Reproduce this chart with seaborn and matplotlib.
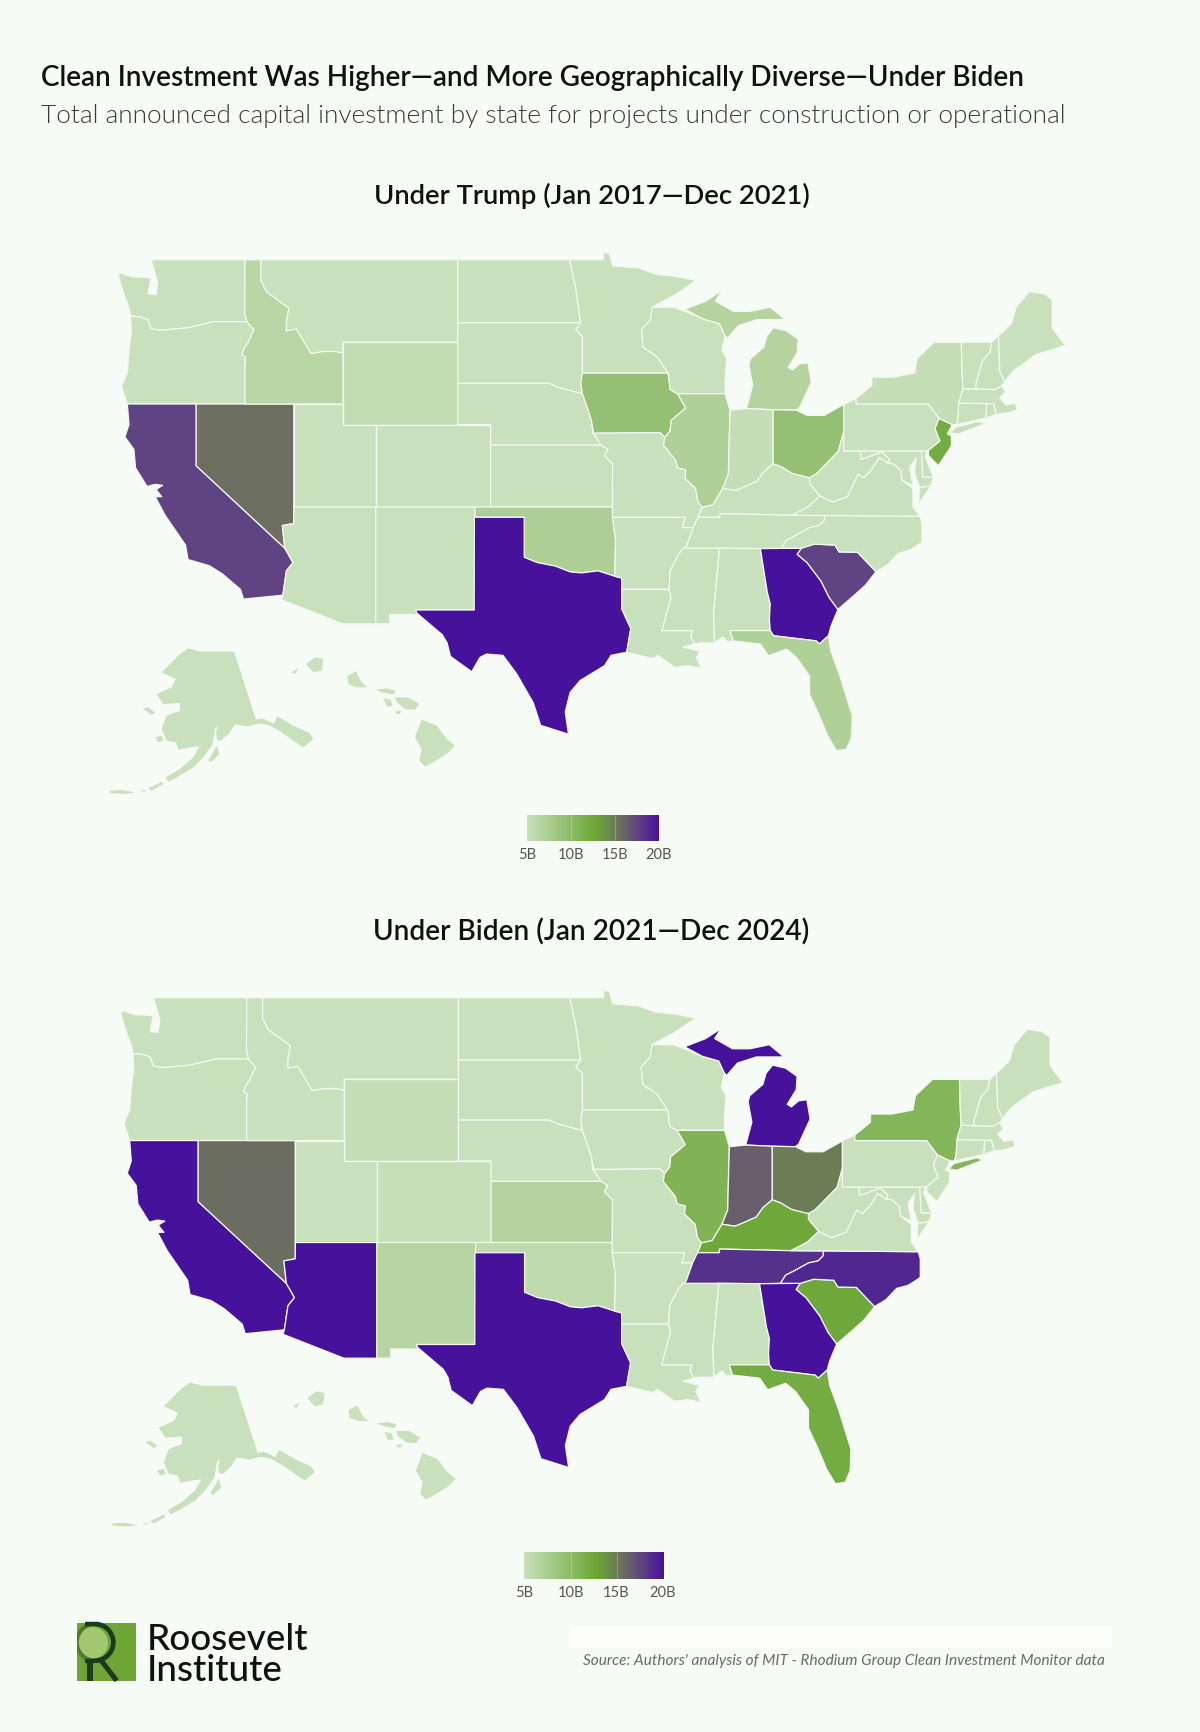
import numpy as np
import matplotlib
matplotlib.use("Agg")
import matplotlib.pyplot as plt
from matplotlib.collections import PolyCollection
from matplotlib.colors import LinearSegmentedColormap, Normalize
from matplotlib.patches import Rectangle, Circle, Arc
import seaborn as sns

TITLE = "Clean Investment Was Higher\u2014and More Geographically Diverse\u2014Under Biden"
SUBTITLE = "Total announced capital investment by state for projects under construction or operational"
HEAD_TRUMP = "Under Trump (Jan 2017\u2014Dec 2021)"
HEAD_BIDEN = "Under Biden (Jan 2021\u2014Dec 2024)"
SOURCE = "Source: Authors' analysis of MIT - Rhodium Group Clean Investment Monitor data"
LEGEND_TICKS = [5, 10, 15, 20]
LEGEND_LABELS = ["5B", "10B", "15B", "20B"]

# Announced investment, $B (floor of the scale = 5)
STATE_CODES = ["WA","OR","CA","NV","ID","MT","WY","UT","AZ","CO","NM","ND","SD","NE","KS","OK","TX",
               "MN","IA","MO","AR","LA","WI","IL","MS","MI","IN","KY","TN","AL","OH","GA","FL","SC",
               "NC","VA","WV","MD","DE","PA","NJ","NY","CT","RI","MA","VT","NH","ME","AK","HI"]
TRUMP_VALUES = [5,5,17.6,15.5,6.4,5,5.6,5,5,5,5,5,5,5,5,7.3,20,
                5,9.3,5,5,5,5.1,7.2,5,6.8,5.3,5,5,5,9.3,20,7.2,17.6,
                5,5,5,5,5,5,12,5.3,5,5,5,5,5,5,5,5]
BIDEN_VALUES  = [5,5,20,15.6,5,5,5.3,5,20,5.2,6.5,5,5,5,6.8,5.8,20,
                 5,5,5,5,5,5,11,5,20,16.3,12.5,18.5,5,14.8,20,12,12.5,
                 19,5.1,5.1,5,5,5,5,10.8,5,5,5,5,5,5,5,5]

# Simplified state outlines (lon, lat)
OUTLINES = {
"WA":[[(-122.76,49),(-117.03,49),(-117.04,46.42),(-116.92,46),(-118.98,46),(-119.3,45.93),(-120.5,45.7),(-121.2,45.65),(-122.2,45.58),(-122.75,45.65),(-122.95,46.1),(-123.4,46.22),(-124,46.27),(-124.1,46.7),(-124.4,47.3),(-124.73,48.17),(-124.7,48.38),(-123.9,48.17),(-123.1,48.15),(-122.75,48.12),(-122.95,47.35),(-122.45,47.3),(-122.35,47.9),(-122.55,48.5)]],
"OR":[[(-124.2,42),(-117.03,42),(-117.03,43.83),(-117,44.3),(-117.22,44.4),(-117.05,44.75),(-116.85,44.95),(-116.55,45.5),(-116.47,45.6),(-116.92,46),(-118.98,46),(-119.3,45.93),(-120.5,45.7),(-121.2,45.65),(-122.2,45.58),(-122.75,45.65),(-122.95,46.1),(-123.4,46.22),(-124,46.27),(-123.95,45.5),(-124.1,44.6),(-124.2,43.5),(-124.55,42.85)]],
"CA":[[(-124.2,42),(-120,42),(-120,39),(-114.6,35),(-114.1,34.3),(-114.5,33.9),(-114.72,32.72),(-117.12,32.53),(-117.3,33),(-118.4,33.75),(-119.2,34.15),(-120.5,34.45),(-120.65,35.15),(-121.9,36.6),(-122.5,37.5),(-122.1,37.5),(-122.45,37.85),(-122.05,38.05),(-122.5,38.1),(-123,38),(-123.7,38.9),(-123.8,39.8),(-124.35,40.4),(-124.1,41)]],
"NV":[[(-120,42),(-114.05,42),(-114.05,36.2),(-114.75,36.1),(-114.6,35),(-120,39)]],
"ID":[[(-117.03,49),(-116.05,49),(-116.05,48),(-115.72,47.45),(-114.95,47),(-114.35,46.65),(-114.5,46),(-114.5,45.55),(-113.9,45.65),(-113.45,45.05),(-113,44.45),(-112.3,44.55),(-111.5,44.55),(-111.05,44.48),(-111.05,42),(-117.03,42),(-117.03,43.83),(-117,44.3),(-117.22,44.4),(-117.05,44.75),(-116.85,44.95),(-116.55,45.5),(-116.47,45.6),(-116.92,46),(-117.04,46.42)]],
"MT":[[(-116.05,49),(-104.05,49),(-104.05,45),(-111.05,45),(-111.05,44.48),(-111.5,44.55),(-112.3,44.55),(-113,44.45),(-113.45,45.05),(-113.9,45.65),(-114.5,45.55),(-114.5,46),(-114.35,46.65),(-114.95,47),(-115.72,47.45),(-116.05,48)]],
"WY":[[(-111.05,45),(-104.05,45),(-104.05,41),(-111.05,41)]],
"UT":[[(-114.05,42),(-111.05,42),(-111.05,41),(-109.05,41),(-109.05,37),(-114.05,37)]],
"AZ":[[(-114.05,37),(-109.05,37),(-109.05,31.33),(-111.07,31.33),(-114.8,32.5),(-114.72,32.72),(-114.5,33.9),(-114.1,34.3),(-114.6,35),(-114.75,36.1),(-114.05,36.2)]],
"CO":[[(-109.05,41),(-102.05,41),(-102.05,37),(-109.05,37)]],
"NM":[[(-109.05,37),(-103,37),(-103.05,32),(-106.62,32),(-106.53,31.78),(-108.2,31.78),(-108.2,31.33),(-109.05,31.33)]],
"ND":[[(-104.05,49),(-97.23,49),(-96.85,47.6),(-96.56,45.94),(-104.05,45.94)]],
"SD":[[(-104.05,45.94),(-96.56,45.94),(-96.85,45.6),(-96.45,45.3),(-96.45,43.5),(-96.55,43),(-96.45,42.49),(-97.9,42.8),(-98.5,43),(-104.05,43)]],
"NE":[[(-104.05,43),(-98.5,43),(-97.9,42.8),(-96.45,42.49),(-96.1,41.7),(-95.9,41.2),(-95.82,40.6),(-95.31,40),(-102.05,40),(-102.05,41),(-104.05,41)]],
"KS":[[(-102.05,40),(-95.31,40),(-94.9,39.8),(-95.1,39.5),(-94.61,39.1),(-94.62,37),(-102.05,37)]],
"OK":[[(-103,37),(-94.62,37),(-94.62,36.5),(-94.43,35.4),(-94.48,33.64),(-95.5,33.9),(-96.5,33.8),(-97.2,33.85),(-98.1,34.13),(-99.2,34.3),(-100,34.56),(-100,36.5),(-103,36.5)]],
"TX":[[(-103.04,36.5),(-100,36.5),(-100,34.56),(-99.2,34.3),(-98.1,34.13),(-97.2,33.85),(-96.5,33.8),(-95.5,33.9),(-94.48,33.64),(-94.05,33.55),(-94.05,32.05),(-93.5,31.1),(-93.75,29.95),(-94.7,29.8),(-95.1,29.3),(-96.6,28.57),(-97.2,28),(-97.5,27.05),(-97.3,25.97),(-99,26.4),(-99.45,27.5),(-100.46,28.9),(-101.3,29.8),(-102.3,29.86),(-102.7,29.7),(-103.2,29),(-104.5,29.75),(-104.7,30.4),(-105,30.8),(-106.55,31.85),(-106.62,32),(-103.05,32)]],
"MN":[[(-97.23,49),(-95.15,49),(-95.15,49.38),(-94.8,49.3),(-94.6,48.7),(-93,48.6),(-92,48.3),(-90.8,48.2),(-89.5,48),(-90.8,47.3),(-92.1,46.75),(-92.3,46.1),(-92.85,45.6),(-92.75,44.75),(-91.9,44.3),(-91.22,43.5),(-96.45,43.5),(-96.45,45.3),(-96.85,45.6),(-96.56,45.94),(-96.85,47.6)]],
"IA":[[(-96.45,43.5),(-91.22,43.5),(-91.1,42.7),(-90.65,42.5),(-90.15,41.8),(-91.05,41.2),(-91.1,40.7),(-91.42,40.38),(-91.73,40.61),(-95.77,40.58),(-95.9,41.2),(-96.1,41.7),(-96.45,42.49),(-96.55,43)]],
"MO":[[(-95.77,40.58),(-91.73,40.61),(-91.42,40.38),(-91.5,40),(-90.75,39.25),(-90.65,38.9),(-90.15,38.8),(-90.2,38.4),(-89.55,37.9),(-89.4,37.25),(-89.15,36.98),(-89.4,36.5),(-89.7,36),(-90.37,36),(-90.2,36.5),(-94.62,36.5),(-94.62,37),(-94.61,39.1),(-95.1,39.5),(-94.9,39.8),(-95.31,40)]],
"AR":[[(-94.62,36.5),(-90.2,36.5),(-90.37,36),(-89.7,36),(-90.1,35.1),(-90.6,34.7),(-91.1,33.9),(-91.17,33),(-94.05,33),(-94.05,33.55),(-94.48,33.64),(-94.43,35.4)]],
"LA":[[(-94.05,33),(-91.17,33),(-91.05,32.6),(-91.6,31),(-89.73,31),(-89.85,30.67),(-89.6,30.35),(-90.3,30.2),(-89.3,30),(-89.5,29.7),(-89.2,29.17),(-90,29.3),(-90.81,29.22),(-91.85,29.8),(-92.13,29.65),(-93,29.8),(-93.75,29.95),(-93.5,31.1),(-94.05,32.05)]],
"MS":[[(-90.3,35),(-88.2,35),(-88.1,34.9),(-88.45,31.9),(-88.4,30.4),(-89.3,30.4),(-89.6,30.35),(-89.85,30.67),(-89.73,31),(-91.6,31),(-91.05,32.6),(-91.17,33),(-91.1,33.9),(-90.6,34.7)]],
"AL":[[(-88.2,35),(-85.6,34.98),(-85.18,32.87),(-85,32.3),(-85.05,31.55),(-85,31),(-87.45,31),(-87.25,30.5),(-87.6,30.45),(-87.9,30.7),(-88.06,30.6),(-88.4,30.4),(-88.45,31.9),(-88.1,34.9)]],
"GA":[[(-85.6,34.98),(-83.1,35),(-83.35,34.7),(-82.75,34.3),(-81.9,33.4),(-81.4,32.6),(-80.87,32.03),(-81.3,31.2),(-81.45,30.75),(-82,30.35),(-82.2,30.5),(-84.8,30.75),(-85,31),(-85.05,31.55),(-85,32.3),(-85.18,32.87)]],
"FL":[[(-87.45,31),(-85,31),(-84.8,30.75),(-82.2,30.5),(-82,30.35),(-81.45,30.75),(-81.3,30),(-80.75,28.8),(-80,26.87),(-80.05,25.8),(-80.35,25.25),(-80.95,25.17),(-81.5,25.9),(-82,26.87),(-82.6,27.9),(-82.6,28.8),(-83.4,29.7),(-84,30.1),(-85.1,29.78),(-85.6,30.35),(-87.25,30.5)]],
"SC":[[(-83.1,35),(-82.3,35.2),(-81.05,35.15),(-80.8,34.82),(-79.67,34.8),(-78.55,33.86),(-79.2,33.2),(-79.9,32.7),(-80.87,32.03),(-81.4,32.6),(-81.9,33.4),(-82.75,34.3),(-83.35,34.7)]],
"NC":[[(-84.32,35),(-83.1,35),(-82.3,35.2),(-81.05,35.15),(-80.8,34.82),(-79.67,34.8),(-78.55,33.86),(-77.85,34.2),(-77.2,34.75),(-76.5,34.9),(-76,35.15),(-75.75,35.3),(-75.75,36.2),(-75.87,36.55),(-81.68,36.59),(-81.7,36.35),(-82,36.1),(-82.6,36),(-83.5,35.6),(-84,35.4)]],
"TN":[[(-90.3,35),(-90.1,35.1),(-89.7,36),(-89.4,36.5),(-88.07,36.5),(-88.05,36.68),(-83.68,36.6),(-81.68,36.59),(-81.7,36.35),(-82,36.1),(-82.6,36),(-83.5,35.6),(-84,35.4),(-84.32,35),(-85.6,34.98),(-88.2,35)]],
"KY":[[(-89.4,36.5),(-89.15,36.98),(-88.5,37.1),(-87.9,37.9),(-87.1,37.8),(-86.5,38),(-85.8,38.25),(-85.4,38.7),(-84.82,39.1),(-84.3,38.95),(-83.65,38.63),(-82.6,38.42),(-82.6,38.15),(-81.97,37.54),(-82.7,37),(-83.68,36.6),(-88.05,36.68),(-88.07,36.5)]],
"VA":[[(-83.68,36.6),(-81.68,36.59),(-75.87,36.55),(-76.3,37),(-76.3,37.9),(-76.95,38.3),(-77.05,38.8),(-77.5,39.1),(-77.83,39.13),(-78.35,39.4),(-78.87,38.76),(-79.3,38.42),(-79.65,38.6),(-80.3,37.5),(-81.2,37.25),(-81.97,37.54),(-82.7,37)],
      [(-75.9,37.95),(-75.2,38.03),(-75.95,37.15)]],
"WV":[[(-82.6,38.42),(-82.6,38.15),(-81.97,37.54),(-81.2,37.25),(-80.3,37.5),(-79.65,38.6),(-79.3,38.42),(-78.87,38.76),(-78.35,39.4),(-77.83,39.13),(-77.72,39.32),(-78.2,39.68),(-79.48,39.3),(-79.48,39.72),(-80.52,39.72),(-80.52,40.64),(-80.85,39.7),(-81.7,39),(-82.2,38.6)]],
"OH":[[(-84.82,41.72),(-83.4,41.7),(-82.75,41.45),(-81.7,41.45),(-80.52,41.98),(-80.52,40.64),(-80.85,39.7),(-81.7,39),(-82.2,38.6),(-82.6,38.42),(-83.65,38.63),(-84.3,38.95),(-84.82,39.1)]],
"IN":[[(-87.45,41.7),(-86.45,41.78),(-84.82,41.72),(-84.82,39.1),(-85.4,38.7),(-85.8,38.25),(-86.5,38),(-87.1,37.8),(-87.9,37.9),(-87.55,38.6),(-87.53,39.35)]],
"IL":[[(-90.65,42.5),(-87.75,42.5),(-87.45,41.7),(-87.53,39.35),(-87.55,38.6),(-87.9,37.9),(-88.5,37.1),(-89.15,36.98),(-89.4,37.25),(-89.55,37.9),(-90.2,38.4),(-90.15,38.8),(-90.65,38.9),(-90.75,39.25),(-91.5,40),(-91.42,40.38),(-91.1,40.7),(-91.05,41.2),(-90.15,41.8)]],
"WI":[[(-92.2,46.7),(-90.9,46.7),(-90.2,46.5),(-89.1,46.13),(-88.1,45.9),(-87.75,45.3),(-87.95,44.6),(-87.65,44.2),(-87.75,43.2),(-87.75,42.5),(-90.65,42.5),(-91.1,42.7),(-91.22,43.5),(-91.9,44.3),(-92.75,44.75),(-92.85,45.6),(-92.3,46.1)]],
"MI":[[(-86.45,41.78),(-84.82,41.72),(-83.4,41.7),(-83.2,41.84),(-82.5,43.05),(-82.7,44),(-83.2,43.95),(-83.65,43.65),(-83.9,43.78),(-83.35,44.5),(-83.3,45.15),(-84,45.55),(-84.8,45.7),(-85.2,45.3),(-85.4,44.75),(-86.2,44.2),(-86.3,43.9),(-86.07,42.9)],
      [(-90.2,46.6),(-88.9,47),(-87.95,47.5),(-88.35,47),(-87.25,46.5),(-86.2,46.5),(-85,46.7),(-84.1,46.1),(-84.4,46.1),(-85.8,46.1),(-86.95,45.8),(-87.6,45.2),(-87.75,45.3),(-88.1,45.9),(-89.1,46.13)]],
"PA":[[(-80.52,41.98),(-79.76,42.27),(-79.76,42),(-75.35,42),(-74.7,41.3),(-74.95,40.8),(-74.65,40.2),(-75.35,39.75),(-75.78,39.72),(-80.52,39.72)]],
"NY":[[(-79.76,42.27),(-78.8,42.9),(-78.8,43.3),(-77.5,43.3),(-76.2,43.5),(-76.05,44.2),(-75,45),(-73.35,45),(-73.3,43.6),(-73.25,42.75),(-73.5,42.05),(-73.55,41.3),(-73.65,41),(-73.9,41),(-74.7,41.3),(-75.35,42),(-79.76,42)],
      [(-74,40.6),(-73.7,40.87),(-72.3,41.15),(-71.9,41.05),(-73.5,40.55)]],
"NJ":[[(-74.7,41.3),(-73.9,41),(-74.2,40.55),(-73.95,40.45),(-73.95,39.97),(-74.75,39),(-75.35,39.5),(-75.35,39.75),(-74.65,40.2),(-74.95,40.8)]],
"DE":[[(-75.78,39.72),(-75.42,39.8),(-75.55,39.45),(-75.05,38.45),(-75.7,38.46)]],
"MD":[[(-79.48,39.72),(-75.78,39.72),(-75.7,38.46),(-75.05,38.45),(-75.2,38.03),(-75.9,37.95),(-76.2,38.7),(-76.1,39.4),(-76.5,38.9),(-76.3,38.05),(-76.95,38.3),(-77.05,38.8),(-77.5,39.1),(-77.83,39.13),(-77.72,39.32),(-78.2,39.68),(-79.48,39.3)]],
"CT":[[(-73.5,42.05),(-71.8,42.02),(-71.85,41.32),(-73.65,41),(-73.55,41.3)]],
"RI":[[(-71.8,42.02),(-71.38,42.02),(-71.2,41.5),(-71.85,41.32)]],
"MA":[[(-73.25,42.75),(-72.46,42.73),(-71.3,42.7),(-70.9,42.88),(-70.65,42.6),(-71,42.3),(-70.6,41.95),(-70.05,42.05),(-69.95,41.7),(-70.65,41.55),(-71.2,41.5),(-71.38,42.02),(-71.8,42.02),(-73.5,42.05)]],
"VT":[[(-73.35,45),(-71.5,45),(-71.6,44.5),(-72.05,44.1),(-72.45,43),(-72.46,42.73),(-73.25,42.75),(-73.3,43.6)]],
"NH":[[(-71.5,45),(-71.08,45.3),(-71,43.6),(-70.7,43.07),(-70.9,42.88),(-71.3,42.7),(-72.46,42.73),(-72.45,43),(-72.05,44.1),(-71.6,44.5)]],
"ME":[[(-71.08,45.3),(-70.3,45.9),(-70,46.7),(-69.2,47.45),(-68.3,47.35),(-67.8,47.07),(-67.8,45.7),(-67.45,45.3),(-67,44.85),(-68.8,44.4),(-70.2,43.6),(-70.7,43.07),(-71,43.6)]],
}
# Alaska and Hawaii insets, local drawing units
INSET_OUTLINES = {
"AK":[[(240,75),(265,58),(300,68),(402,68),(468,272),(488,268),(522,285),(532,262),(580,290),(628,312),(640,330),(610,355),(590,342),(545,310),(510,290),(478,283),(440,292),(405,285),(388,312),(364,334),(352,335),(348,310),(355,292),(345,298),(338,345),(310,385),(280,415),(240,440),(205,458),(197,445),(240,420),(280,385),(298,352),(270,355),(235,362),(228,340),(200,335),(185,300),(200,260),(240,245),(240,222),(190,225),(170,195),(215,175),(228,150),(185,130),(215,100)],
      [(165,325),(185,320),(190,335),(175,340)],[(128,238),(145,235),(165,250),(155,258)],[(325,395),(350,350),(358,375),(335,398)],
      [(145,478),(185,458),(190,465),(155,485)],[(125,485),(140,482),(130,490)],[(30,485),(65,483),(105,490),(75,495),(30,492)]],
"HI":[[(965,272),(1010,290),(1040,330),(1065,350),(1040,375),(990,405),(975,412),(958,395),(965,360),(945,325)],
      [(885,205),(925,205),(958,225),(945,242),(915,240),(890,220)],[(828,182),(860,178),(888,185),(880,197),(845,190)],
      [(850,208),(872,212),(878,232),(860,232)],[(885,248),(903,245),(900,255),(890,255)],
      [(742,142),(768,127),(785,160),(802,175),(770,175),(745,165)],[(618,105),(645,85),(670,90),(665,125),(640,130)],[(575,130),(595,118),(585,135)]],
}

BG = "#F6FBF6"
EDGE = "#F3F8F0"
W, H = 1200, 1733
sns.set_theme(style="white", rc={"figure.facecolor": BG, "axes.facecolor": "none"})
plt.rcParams["font.family"] = ["Lato", "DejaVu Sans"]

cmap = LinearSegmentedColormap.from_list(
    "clean", [(0, "#C9E0BC"), (0.53, "#69A534"), (0.70, "#6C6F5F"), (0.84, "#5F4482"), (1, "#46129B")])
norm = Normalize(5, 20)

PX_LON, PX_LAT = 16.4, 20.6


def inset_to_lonlat(p):
    px, py = 100 + p[0] / 3, 630 + p[1] / 3
    return (-111.05 + (px - 343) / PX_LON, 42 - (py - 405) / PX_LAT)


def axes_px(fig, x0, x1, y0, y1):
    return fig.add_axes([x0 / W, 1 - y1 / H, (x1 - x0) / W, (y1 - y0) / H])


fig = plt.figure(figsize=(W / 100, H / 100), dpi=100, facecolor=BG)
over = axes_px(fig, 0, W, 0, H)
over.set_xlim(0, W); over.set_ylim(H, 0); over.axis("off")


def draw_map(values, x_scale, y_scale, y_off):
    lon0, lon1, lat0, lat1 = -126, -66, 22, 50
    fx = lambda lon: 593 + (343 + PX_LON * (lon + 111.05) - 593) * x_scale
    fy = lambda lat: y_off + (405 - PX_LAT * (lat - 42) - 261) * y_scale
    ax = axes_px(fig, fx(lon0), fx(lon1), fy(lat1), fy(lat0))
    by_state = dict(zip(STATE_CODES, values))
    polys, vals = [], []
    for code in STATE_CODES:
        if code in OUTLINES:
            for part in OUTLINES[code]:
                polys.append(part)
                vals.append(by_state[code])
    ax.add_collection(PolyCollection(polys, array=np.array(vals), cmap=cmap, norm=norm,
                                     edgecolors=EDGE, linewidths=0.9))
    polys, vals = [], []
    for code, parts in INSET_OUTLINES.items():
        for part in parts:
            polys.append([inset_to_lonlat(p) for p in part])
            vals.append(by_state[code])
    ax.add_collection(PolyCollection(polys, array=np.array(vals), cmap=cmap, norm=norm, linewidths=0))
    ax.set_xlim(lon0, lon1); ax.set_ylim(lat0, lat1)
    ax.axis("off")
    return ax


def draw_legend(x0, x1, y0, y1, label_y, label_xs):
    ax = axes_px(fig, x0, x1, y0, y1)
    ramp = np.linspace(5, 20, 256).reshape(1, -1)
    sns.heatmap(ramp, ax=ax, cmap=cmap, vmin=5, vmax=20, cbar=False,
                xticklabels=False, yticklabels=False)
    ax.vlines([(v - 5) / 15 * 256 for v in LEGEND_TICKS[1:-1]], 0, 1, color="#FFFFFF", lw=0.6, alpha=0.3)
    for lab, xp in zip(LEGEND_LABELS, label_xs):
        over.text(xp, label_y, lab, ha="center", va="center", fontsize=10.5, color="#555555")


draw_map(TRUMP_VALUES, 1.0, 1.0, 261)
draw_map(BIDEN_VALUES, 0.995, 0.99, 999)
draw_legend(527, 659, 816, 842, 855, [527, 571, 615, 659])
draw_legend(524, 664, 1553, 1580, 1593, [524, 571, 616, 663])

over.text(41, 78, TITLE, fontsize=20.1, fontweight=600, color="#111111", va="center")
over.text(41, 116, SUBTITLE, fontsize=18.9, fontweight=300, color="#3A3A3A", va="center")
over.text(592, 196, HEAD_TRUMP, fontsize=19.7, fontweight=600, color="#111111", ha="center", va="center")
over.text(591.5, 932, HEAD_BIDEN, fontsize=20.2, fontweight=600, color="#111111", ha="center", va="center")

# source line with pale band above it
over.add_patch(Rectangle((570, 1627), 542, 22, color="#FDFEFB", lw=0))
over.text(1105, 1661, SOURCE, fontsize=11.1, style="italic", color="#6A6A6A", ha="right", va="center")

# logo
DARK = "#1C3A20"
sq = Rectangle((77.3, 1624), 58.7, 58, color="#6FA535", lw=0)
over.add_patch(sq)
disc = Circle((92, 1644), 16, color="#A3C86F", lw=0)
over.add_patch(disc)
disc.set_clip_path(sq)
left_arc = Arc((95, 1643.3), 36.6, 36.6, theta1=90, theta2=270, color="#4E7F28", lw=3)
over.add_patch(left_arc)
left_arc.set_clip_path(sq)
over.add_patch(Arc((95, 1643.3), 36.6, 36.6, theta1=-90, theta2=90, color=DARK, lw=3.4))
over.plot([85, 95], [1625, 1625], color=DARK, lw=3.2, solid_capstyle="butt")
over.plot([85, 95], [1661.6, 1661.6], color=DARK, lw=3.2, solid_capstyle="butt")
over.add_patch(Rectangle((87.3, 1661), 6, 21, color=DARK, lw=0))
over.plot([100, 116.7], [1660, 1681.7], color=DARK, lw=3.6, solid_capstyle="butt")
over.text(147, 1640, "Roosevelt", fontsize=26.5, color="#111111", va="center", fontweight=500)
over.text(147, 1671, "Institute", fontsize=26.5, color="#111111", va="center", fontweight=500)

over.set_xlim(0, W); over.set_ylim(H, 0)
fig.savefig("out.png", dpi=100, facecolor=BG)
